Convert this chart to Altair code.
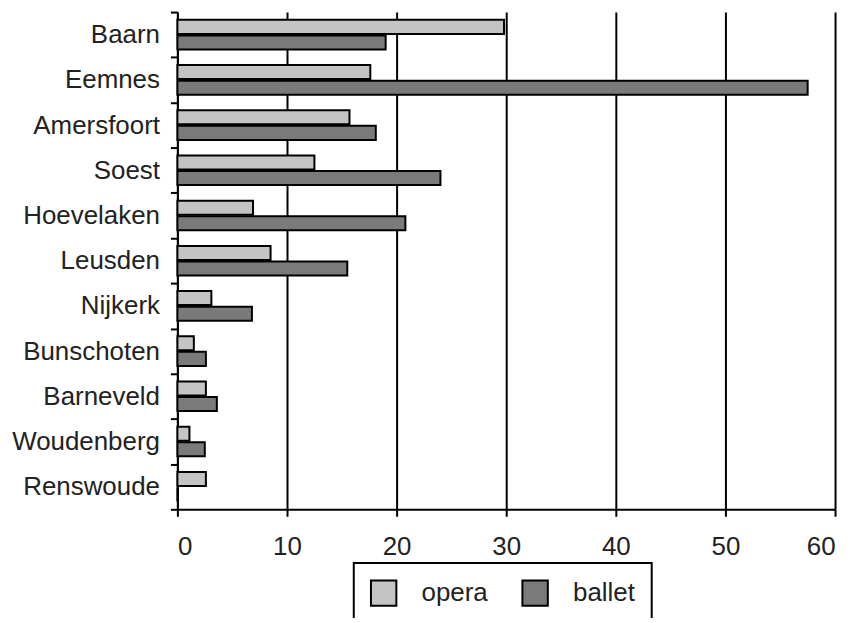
import altair as alt
import pandas as pd

gemeenten = ["Baarn", "Eemnes", "Amersfoort", "Soest", "Hoevelaken", "Leusden",
             "Nijkerk", "Bunschoten", "Barneveld", "Woudenberg", "Renswoude"]
opera = [29.8, 17.6, 15.7, 12.5, 6.9, 8.5, 3.1, 1.5, 2.6, 1.1, 2.6]
ballet = [19.0, 57.5, 18.1, 24.0, 20.8, 15.5, 6.8, 2.6, 3.6, 2.5, 0.0]
series = ["opera", "ballet"]
colors = ["#c4c4c4", "#7a7a7a"]
x_ticks = [0, 10, 20, 30, 40, 50, 60]

rows = []
for g, o, b in zip(gemeenten, opera, ballet):
    rows.append({"gemeente": g, "soort": "opera", "waarde": o})
    rows.append({"gemeente": g, "soort": "ballet", "waarde": b})
df = pd.DataFrame(rows)

FONT = "Liberation Sans"

chart = alt.Chart(df).mark_bar(stroke="black", strokeWidth=2).encode(
    x=alt.X("waarde:Q",
            scale=alt.Scale(domain=[0, 60], nice=False),
            axis=alt.Axis(title=None, values=x_ticks, grid=True, gridColor="black",
                          gridWidth=2, gridOpacity=1, domainColor="black", domainWidth=2,
                          tickColor="black", tickWidth=2, tickSize=7,
                          labelFontSize=26, labelFont=FONT, labelColor="#222222",
                          labelPadding=17)),
    y=alt.Y("gemeente:N", sort=gemeenten,
            scale=alt.Scale(paddingInner=0, paddingOuter=0),
            axis=alt.Axis(title=None, tickBand="extent", grid=False,
                          domainColor="black", domainWidth=2,
                          tickColor="black", tickWidth=2, tickSize=7,
                          labelFontSize=26, labelFont=FONT, labelColor="#222222",
                          labelPadding=11)),
    yOffset=alt.YOffset("soort:N", sort=series,
                        scale=alt.Scale(paddingInner=0.1, paddingOuter=0.5)),
    color=alt.Color("soort:N", sort=series,
                    scale=alt.Scale(domain=series, range=colors),
                    legend=alt.Legend(title=None, orient="none", legendX=177, legendY=553,
                                      direction="horizontal", padding=16,
                                      symbolType="square", symbolSize=650,
                                      symbolStrokeColor="black", symbolStrokeWidth=2,
                                      symbolOpacity=1,
                                      labelFontSize=26, labelFont=FONT,
                                      labelColor="#222222", labelOffset=24,
                                      columnPadding=30)),
).properties(
    width=660, height=499,
    autosize=alt.AutoSizeParams(type="none"),
    padding={"left": 170, "top": 3, "right": 12, "bottom": 108},
    background="white",
).configure_view(stroke=None).configure_legend(strokeColor="black", strokeWidth=2)

chart.save("out.html", embed_options={"renderer": "svg", "actions": False})
